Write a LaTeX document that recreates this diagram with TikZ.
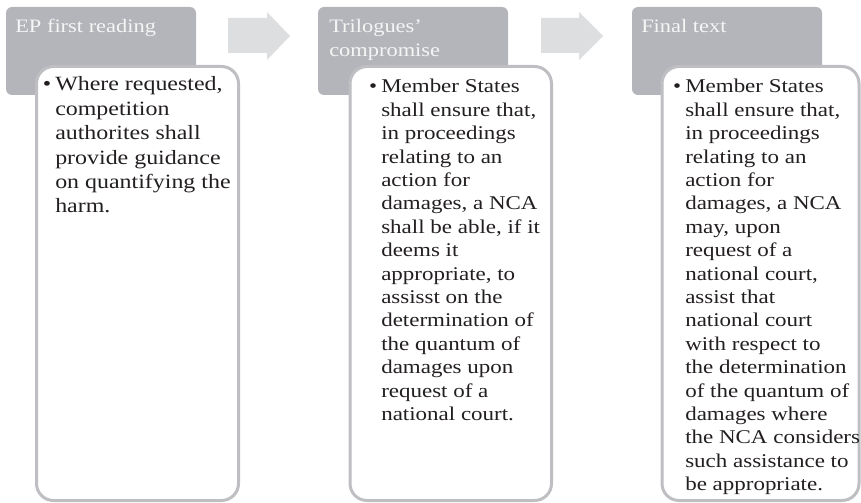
\documentclass[tikz,border=0pt]{standalone}
\usepackage{fontspec}
\setmainfont{Liberation Serif}[FakeStretch=1.18]
\definecolor{hdrfill}{RGB}{180,181,186}
\definecolor{arrfill}{RGB}{221,222,224}
\definecolor{bordcol}{RGB}{190,190,195}
\definecolor{txtcol}{RGB}{35,31,32}
\definecolor{hdrtxt}{RGB}{245,245,245}
\begin{document}
\begin{tikzpicture}[x=0.75pt,y=-0.75pt,
  hdrbox/.style={fill=hdrfill, draw=none, rounded corners=4.5pt},
  bodybox/.style={fill=white, draw=bordcol, line width=2.25pt, rounded corners=12.75pt},
  flowarrow/.style={fill=arrfill, draw=none},
  hdrtext/.style={anchor=base west, inner sep=0pt, text=hdrtxt, font={\fontsize{14.25pt}{18pt}\selectfont}},
  bodytext/.style={anchor=base west, inner sep=0pt, text=txtcol, font={\fontsize{14.6pt}{17.55pt}\selectfont}},
  bodytextbig/.style={anchor=base west, inner sep=0pt, text=txtcol, font={\fontsize{15.2pt}{18.3pt}\selectfont}}
]
\useasboundingbox (0,0) rectangle (861,503);

% column 1
\fill[hdrbox] (6,7) rectangle (196,95);
\draw[bodybox] (36.5,66.5) rectangle (238.5,500.5);
\node[hdrtext] (h1) at (15,33) {EP first reading};
\node[bodytextbig] (b1) at (55,91) {\parbox[t]{250pt}{\raggedright\leavevmode\llap{\textbullet\hspace{3pt}}Where requested,\\competition\\authorites shall\\provide guidance\\on quantifying the\\harm.}};

% arrow 1
\fill[flowarrow] (228,18) -- (267,18) -- (267,12) -- (290,36) -- (267,60) -- (267,53) -- (228,53) -- cycle;

% column 2
\fill[hdrbox] (318,7) rectangle (508,95);
\draw[bodybox] (350,66.5) rectangle (551.5,500.5);
\node[hdrtext] (h2) at (329,33) {\parbox[t]{200pt}{Trilogues'\\compromise}};
\node[bodytext] (b2) at (381,93) {\parbox[t]{250pt}{\raggedright\leavevmode\llap{\textbullet\hspace{3pt}}Member States\\shall ensure that,\\in proceedings\\relating to an\\action for\\damages, a NCA\\shall be able, if it\\deems it\\appropriate, to\\assisst on the\\determination of\\the quantum of\\damages upon\\request of a\\national court.}};

% arrow 2
\fill[flowarrow] (541,18) -- (579,18) -- (579,12) -- (603,36) -- (579,60) -- (579,53) -- (541,53) -- cycle;

% column 3
\fill[hdrbox] (632,7) rectangle (822,95);
\draw[bodybox] (662,66.5) rectangle (859,500.5);
\node[hdrtext] (h3) at (641,33) {Final text};
\node[bodytext] (b3) at (685,93) {\parbox[t]{250pt}{\raggedright\leavevmode\llap{\textbullet\hspace{3pt}}Member States\\shall ensure that,\\in proceedings\\relating to an\\action for\\damages, a NCA\\may, upon\\request of a\\national court,\\assist that\\national court\\with respect to\\the determination\\of the quantum of\\damages where\\the NCA considers\\such assistance to\\be appropriate.}};
\end{tikzpicture}
\end{document}
